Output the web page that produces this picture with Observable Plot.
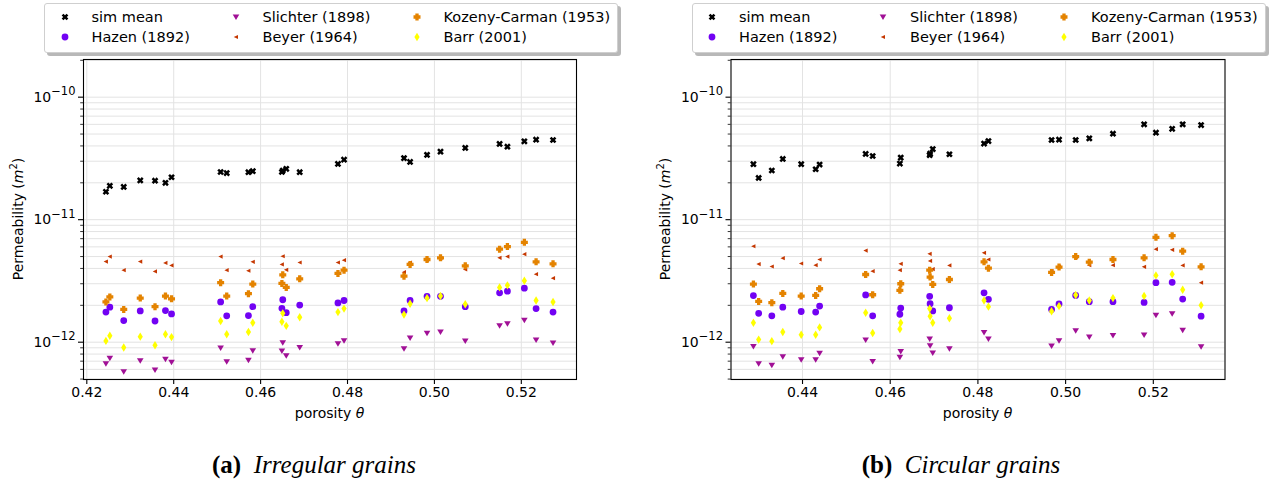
<!DOCTYPE html>
<html>
<head>
<meta charset="utf-8">
<script src="https://cdn.jsdelivr.net/npm/d3@7"></script>
<script src="https://cdn.jsdelivr.net/npm/@observablehq/plot@0.6"></script>
<style>
  body { margin: 0; background: #fff; font-family: "DejaVu Sans", sans-serif; }
  #root { position: relative; width: 1272px; height: 485px; overflow: hidden; background: #fff; }
  .panel { position: absolute; top: 0; }
  .legend { position: absolute; top: 3px; width: 572px; height: 48px; background: #fff;
            border: 1px solid #cfcfcf; border-radius: 3px; box-shadow: 3px 3px 0 rgba(0,0,0,0.28);
            font-size: 14.5px; color: #000; }
  .legend .item { position: absolute; white-space: nowrap; line-height: 18px; }
  .legend svg { position: absolute; overflow: visible; }
  .ylab { position: absolute; font-size: 14px; white-space: nowrap; transform: translate(-50%, -50%) rotate(-90deg); }
  .xlab { position: absolute; font-size: 14px; white-space: nowrap; transform: translate(-50%, -50%); }
  .caption { position: absolute; font-family: "Liberation Serif", "DejaVu Serif", serif; font-size: 25px;
             white-space: nowrap; transform: translate(-50%, -50%); }
  .caption b { font-style: normal; }
  .caption i { font-style: italic; }
</style>
</head>
<body>
<div id="root"></div>
<script>
// ---------------- data ----------------
const seriesNames = ["sim mean", "Hazen (1892)", "Slichter (1898)", "Beyer (1964)", "Kozeny-Carman (1953)", "Barr (2001)"];
const seriesColors = ["#000000", "#7202f3", "#a11096", "#c53700", "#e48300", "#ffff00"];

const xTickValues = [0.42, 0.44, 0.46, 0.48, 0.50, 0.52];
const yMajorTicks = [1e-12, 1e-11, 1e-10];

// (a) Irregular grains
const porosityA = [0.4244, 0.4253, 0.4285, 0.4323, 0.4357, 0.4381, 0.4395, 0.4508, 0.4522, 0.4572, 0.4582, 0.4649, 0.4651, 0.4659, 0.4690, 0.4778, 0.4792, 0.4930, 0.4944, 0.4983, 0.5014, 0.5071, 0.5150, 0.5168, 0.5207, 0.5234, 0.5273];
const simA = [1.69e-11, 1.89e-11, 1.85e-11, 2.09e-11, 2.08e-11, 2.00e-11, 2.22e-11, 2.45e-11, 2.40e-11, 2.44e-11, 2.49e-11, 2.45e-11, 2.52e-11, 2.60e-11, 2.44e-11, 2.85e-11, 3.09e-11, 3.18e-11, 2.96e-11, 3.38e-11, 3.59e-11, 3.85e-11, 4.15e-11, 3.94e-11, 4.36e-11, 4.50e-11, 4.47e-11];
const hazenA = [1.76e-12, 1.93e-12, 1.50e-12, 1.80e-12, 1.49e-12, 1.81e-12, 1.70e-12, 2.13e-12, 1.64e-12, 1.65e-12, 1.95e-12, 1.89e-12, 2.22e-12, 1.74e-12, 2.01e-12, 2.09e-12, 2.19e-12, 1.80e-12, 2.19e-12, 2.37e-12, 2.37e-12, 1.95e-12, 2.53e-12, 2.61e-12, 2.76e-12, 1.88e-12, 1.76e-12];
const slichterA = [6.67e-13, 7.37e-13, 5.74e-13, 7.05e-13, 5.92e-13, 7.23e-13, 6.84e-13, 8.94e-13, 6.92e-13, 7.10e-13, 8.51e-13, 8.45e-13, 9.88e-13, 7.74e-13, 9.05e-13, 9.69e-13, 1.025e-12, 8.83e-13, 1.08e-12, 1.18e-12, 1.21e-12, 1.02e-12, 1.36e-12, 1.41e-12, 1.51e-12, 1.04e-12, 9.81e-13];
const beyerA = [4.55e-12, 5.00e-12, 3.87e-12, 4.55e-12, 3.78e-12, 4.44e-12, 4.23e-12, 5.00e-12, 3.87e-12, 3.83e-12, 4.53e-12, 4.31e-12, 5.03e-12, 3.90e-12, 4.47e-12, 4.47e-12, 4.67e-12, 3.73e-12, 4.47e-12, 4.70e-12, 4.85e-12, 3.92e-12, 4.88e-12, 5.00e-12, 5.23e-12, 3.59e-12, 3.33e-12];
const kozenyA = [2.13e-12, 2.34e-12, 1.85e-12, 2.29e-12, 1.95e-12, 2.38e-12, 2.26e-12, 3.06e-12, 2.38e-12, 2.49e-12, 2.98e-12, 3.02e-12, 3.55e-12, 2.80e-12, 3.29e-12, 3.64e-12, 3.87e-12, 3.46e-12, 4.31e-12, 4.73e-12, 4.88e-12, 4.20e-12, 5.74e-12, 6.03e-12, 6.54e-12, 4.53e-12, 4.36e-12];
const barrA = [1.025e-12, 1.13e-12, 9.05e-13, 1.11e-12, 9.45e-13, 1.16e-12, 1.10e-12, 1.49e-12, 1.16e-12, 1.21e-12, 1.44e-12, 1.47e-12, 1.72e-12, 1.36e-12, 1.60e-12, 1.76e-12, 1.88e-12, 1.68e-12, 2.06e-12, 2.29e-12, 2.38e-12, 2.04e-12, 2.80e-12, 2.91e-12, 3.17e-12, 2.19e-12, 2.13e-12];

// (b) Circular grains
const porosityB = [0.4288, 0.4300, 0.4330, 0.4355, 0.4397, 0.4430, 0.4439, 0.4544, 0.4560, 0.4622, 0.4624, 0.4690, 0.4691, 0.4697, 0.4735, 0.4814, 0.4824, 0.4968, 0.4985, 0.5023, 0.5054, 0.5108, 0.5179, 0.5206, 0.5243, 0.5267, 0.5309];
const simB = [2.84e-11, 2.19e-11, 2.52e-11, 3.13e-11, 2.84e-11, 2.58e-11, 2.82e-11, 3.44e-11, 3.31e-11, 2.87e-11, 3.21e-11, 3.36e-11, 3.46e-11, 3.77e-11, 3.42e-11, 4.18e-11, 4.38e-11, 4.47e-11, 4.50e-11, 4.47e-11, 4.61e-11, 5.03e-11, 6.00e-11, 5.13e-11, 5.52e-11, 6.00e-11, 5.92e-11];
const hazenB = [2.40e-12, 1.72e-12, 1.64e-12, 1.93e-12, 1.78e-12, 1.76e-12, 1.97e-12, 2.43e-12, 1.64e-12, 1.69e-12, 1.90e-12, 2.37e-12, 2.06e-12, 1.80e-12, 1.91e-12, 2.53e-12, 2.24e-12, 1.85e-12, 2.05e-12, 2.41e-12, 2.14e-12, 2.14e-12, 2.11e-12, 3.06e-12, 3.08e-12, 2.25e-12, 1.63e-12];
const slichterB = [9.22e-13, 6.67e-13, 6.46e-13, 7.60e-13, 7.18e-13, 7.18e-13, 8.09e-13, 1.04e-12, 6.96e-13, 7.51e-13, 8.39e-13, 1.06e-12, 9.33e-13, 8.14e-13, 8.83e-13, 1.20e-12, 1.06e-12, 9.28e-13, 1.025e-12, 1.24e-12, 1.10e-12, 1.13e-12, 1.14e-12, 1.66e-12, 1.70e-12, 1.25e-12, 9.17e-13];
const beyerB = [6.07e-12, 4.34e-12, 4.15e-12, 4.85e-12, 4.39e-12, 4.25e-12, 4.73e-12, 5.60e-12, 3.80e-12, 3.87e-12, 4.36e-12, 5.26e-12, 4.61e-12, 3.95e-12, 4.23e-12, 5.36e-12, 4.73e-12, 3.80e-12, 4.15e-12, 4.94e-12, 4.25e-12, 4.25e-12, 4.12e-12, 5.74e-12, 5.67e-12, 4.23e-12, 3.06e-12];
const kozenyB = [2.98e-12, 2.15e-12, 2.10e-12, 2.50e-12, 2.38e-12, 2.41e-12, 2.73e-12, 3.57e-12, 2.44e-12, 2.65e-12, 3.00e-12, 3.87e-12, 3.40e-12, 2.96e-12, 3.25e-12, 4.53e-12, 4.02e-12, 3.71e-12, 4.10e-12, 5.00e-12, 4.50e-12, 4.73e-12, 4.88e-12, 7.18e-12, 7.41e-12, 5.53e-12, 4.12e-12];
const barrB = [1.44e-12, 1.05e-12, 1.02e-12, 1.21e-12, 1.15e-12, 1.15e-12, 1.32e-12, 1.74e-12, 1.19e-12, 1.28e-12, 1.44e-12, 1.88e-12, 1.63e-12, 1.44e-12, 1.57e-12, 2.19e-12, 1.95e-12, 1.79e-12, 1.97e-12, 2.43e-12, 2.19e-12, 2.29e-12, 2.38e-12, 3.51e-12, 3.59e-12, 2.68e-12, 2.00e-12];

const captions = [["(a)", "Irregular grains"], ["(b)", "Circular grains"]];

// ---------------- marker shapes (matplotlib-like) ----------------
function polySymbol(pts) {
  return { draw(ctx, size) {
    const s = Math.sqrt(size / Math.PI);
    ctx.moveTo(pts[0][0] * s, pts[0][1] * s);
    for (let i = 1; i < pts.length; i++) ctx.lineTo(pts[i][0] * s, pts[i][1] * s);
    ctx.closePath();
  }};
}
function plusPts(a, w, rot) {
  const p = [[-w,-a],[w,-a],[w,-w],[a,-w],[a,w],[w,w],[w,a],[-w,a],[-w,w],[-a,w],[-a,-w],[-w,-w]];
  const c = Math.cos(rot), sn = Math.sin(rot);
  return p.map(([x, y]) => [x * c - y * sn, x * sn + y * c]);
}
const circleSym = { draw(ctx, size) { const s = Math.sqrt(size / Math.PI); const r = 3.4 * s; ctx.moveTo(r, 0); ctx.arc(0, 0, r, 0, 2 * Math.PI); } };
const symbols = [
  polySymbol(plusPts(3.5, 1.25, Math.PI / 4)),       // X filled
  circleSym,                                          // o
  polySymbol([[-3.3,-2.6],[3.3,-2.6],[0,2.9]]),       // v
  polySymbol([[-2.3,0],[2.0,-2.1],[2.0,2.1]]),        // <
  polySymbol(plusPts(3.5, 1.65, 0)),                  // P filled
  polySymbol([[0,-4.2],[2.6,0],[0,4.2],[-2.6,0]])     // thin diamond
];

// ---------------- chart ----------------
const yDomain = [4.96e-13, 2.03e-10];
const minorTicks = [];
for (let e = -13; e <= -10; e++) for (let k = 1; k <= 9; k++) {
  const v = +(k + "e" + e);
  if (v >= yDomain[0] && v <= yDomain[1]) minorTicks.push(v);
}
const gridTicks = minorTicks.slice();
const minorOnly = minorTicks.filter(v => !yMajorTicks.some(m => Math.abs(m - v) / m < 1e-9));

function makePanel(porosity, seriesValues, xDomain, marginLeft, marginRight) {
  const rowsBySeries = seriesValues.map((vals, si) => porosity.map((p, i) => ({ p, v: vals[i], s: seriesNames[si] })));
  const svg = Plot.plot({
    width: 636, height: 430,
    marginTop: 59, marginBottom: 51, marginLeft, marginRight,
    style: { fontFamily: "DejaVu Sans, sans-serif", fontSize: "14px", background: "transparent", color: "#000" },
    x: { domain: xDomain },
    y: { type: "log", domain: yDomain },
    marks: [
      Plot.gridY(gridTicks, { stroke: "#e3e3e3", strokeOpacity: 1, strokeWidth: 1 }),
      Plot.gridX(xTickValues.filter(t => t >= xDomain[0] && t <= xDomain[1]), { stroke: "#e3e3e3", strokeOpacity: 1, strokeWidth: 1 }),
      ...rowsBySeries.map((rows, si) => Plot.dot(rows, {
        x: "p", y: "v", r: 1, symbol: symbols[si], fill: seriesColors[si], stroke: "none"
      })),
      Plot.axisX(xTickValues.filter(t => t >= xDomain[0] && t <= xDomain[1]), {
        tickSize: 5, tickPadding: 3, tickFormat: d3.format(".2f"), label: null, strokeWidth: 1.1
      }),
      Plot.axisY(minorOnly, { tickSize: 2.8, tickFormat: () => "", label: null, strokeWidth: 0.8 }),
      Plot.axisY(yMajorTicks, {
        tickSize: 5, tickPadding: 3, label: null, strokeWidth: 1.1,
        tickFormat: d => "10^" + Math.round(Math.log10(d))
      }),
      Plot.frame({ stroke: "#000", strokeWidth: 1.1 })
    ]
  });
  // superscript exponents for log tick labels
  d3.select(svg).selectAll("text").each(function () {
    const t = this.textContent;
    const m = /^10\^(-?\d+)$/.exec(t);
    if (m) {
      const el = d3.select(this);
      el.text(null);
      el.append("tspan").text("10");
      el.append("tspan").attr("dy", "-6.5").attr("font-size", "11.5px").text(m[1].replace("-", "\u2212"));
    }
  });
  return svg;
}

const root = document.getElementById("root");
const panels = [
  { por: porosityA, vals: [simA, hazenA, slichterA, beyerA, kozenyA, barrA], xDomain: [0.41924, 0.5327], ml: 83, mr: 60, left: 0 },
  { por: porosityB, vals: [simB, hazenB, slichterB, beyerB, kozenyB, barrB], xDomain: [0.42369, 0.53635], ml: 94.5, mr: 47.5, left: 636 }
];

panels.forEach((P, pi) => {
  const wrap = document.createElement("div");
  wrap.className = "panel";
  wrap.style.left = P.left + "px";
  wrap.appendChild(makePanel(P.por, P.vals, P.xDomain, P.ml, P.mr));
  root.appendChild(wrap);

  const plotLeft = P.left + P.ml;
  const plotRight = P.left + 636 - P.mr;

  // y label
  const yl = document.createElement("div");
  yl.className = "ylab";
  yl.style.left = (plotLeft - 66.5) + "px";
  yl.style.top = "219px";
  yl.innerHTML = 'Permeability (<i>m</i><sup style="font-size:10px">2</sup>)';
  root.appendChild(yl);

  // x label
  const xl = document.createElement("div");
  xl.className = "xlab";
  xl.style.left = ((plotLeft + plotRight) / 2) + "px";
  xl.style.top = "413px";
  xl.innerHTML = 'porosity <i>\u03b8</i>';
  root.appendChild(xl);

  // caption
  const cap = document.createElement("div");
  cap.className = "caption";
  cap.style.left = (pi === 0 ? 314 : 961) + "px";
  cap.style.top = "465px";
  cap.innerHTML = "<b>" + captions[pi][0] + "</b>&nbsp; <i>" + captions[pi][1] + "</i>";
  root.appendChild(cap);

  // legend
  const lg = document.createElement("div");
  lg.className = "legend";
  lg.style.left = (plotLeft - 39) + "px";
  const colMarker = [19.5, 190.5, 371.5];
  const colText = [46.5, 217.5, 398.5];
  const rowY = [13, 33];
  seriesNames.forEach((name, si) => {
    const col = Math.floor(si / 2), row = si % 2;
    const ms = d3.create("svg").attr("width", 10).attr("height", 10)
      .style("left", (colMarker[col] - 5) + "px").style("top", (rowY[row] - 5) + "px");
    ms.append("path")
      .attr("transform", "translate(5,5)")
      .attr("d", d3.symbol(symbols[si], Math.PI)())
      .attr("fill", seriesColors[si]);
    lg.appendChild(ms.node());
    const it = document.createElement("div");
    it.className = "item";
    it.style.left = colText[col] + "px";
    it.style.top = (rowY[row] - 9) + "px";
    it.textContent = name;
    lg.appendChild(it);
  });
  root.appendChild(lg);
});
</script>
</body>
</html>
